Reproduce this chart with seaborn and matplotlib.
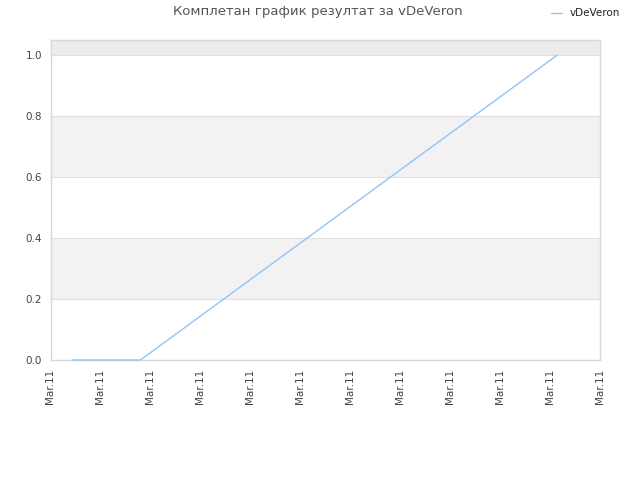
import matplotlib
matplotlib.use("Agg")
import matplotlib.pyplot as plt
import seaborn as sns
import pandas as pd

# data
x_pos = [0.44, 1.8, 10.14]
y_vals = [0.0, 0.0, 1.0]
series_name = "vDeVeron"
tick_positions = list(range(12))
tick_labels = ["Mar.11"] * 12
title = "Комплетан график резултат за vDeVeron"

sns.set_theme(style="white")
plt.rcParams['font.family'] = ['DejaVu Sans']

fig = plt.figure(figsize=(6.4, 4.8), dpi=100)
ax = fig.add_axes([50.5/640, 120/480, 549.5/640, 320/480])

# alternating bands
for lo, hi, c in [(0.2, 0.4, '#f2f2f2'), (0.6, 0.8, '#f2f2f2'), (1.0, 1.05, '#ececec')]:
    ax.axhspan(lo, hi, color=c, zorder=0, lw=0)
for yv in [0.2, 0.4, 0.6, 0.8, 1.0]:
    ax.axhline(yv, color='#e0e0e0', lw=0.8, zorder=1)

df = pd.DataFrame({"x": x_pos, "y": y_vals, "s": [series_name]*3})
sns.lineplot(data=df, x="x", y="y", hue="s", palette=['#90c4f6'], lw=1, ax=ax,
             legend=False, zorder=5)
for ln in ax.get_lines():
    if ln.get_color() == '#90c4f6' or len(ln.get_xdata()) == 3:
        ln.set_clip_on(False)

ax.set_xlim(0, 11)
ax.set_ylim(0, 1.05)
ax.set_xticks(tick_positions)
ax.set_xticklabels(tick_labels, rotation=90, fontsize=7.5, color='#444444')
ax.set_yticks([0, 0.2, 0.4, 0.6, 0.8, 1.0])
ax.set_yticklabels(["0.0", "0.2", "0.4", "0.6", "0.8", "1.0"], fontsize=7.5, color='#444444')
ax.set_xlabel("")
ax.set_ylabel("")
ax.tick_params(axis='both', length=0, pad=6)
for s in ax.spines.values():
    s.set_color('#d8d8d8')
    s.set_linewidth(1)
    s.set_zorder(2)

fig.text(318/640, 1 - 12/480, title, ha='center', va='center', fontsize=9.5, color='#555555')

# legend
fig.lines.append(plt.Line2D([551/640, 562/640], [1 - 13/480, 1 - 13/480],
                            color='#90c4f6', lw=1, transform=fig.transFigure))
fig.text(570/640, 1 - 13/480, series_name, ha='left', va='center', fontsize=7.5, color='#222222')

fig.savefig("out.png", dpi=100, facecolor='white')
